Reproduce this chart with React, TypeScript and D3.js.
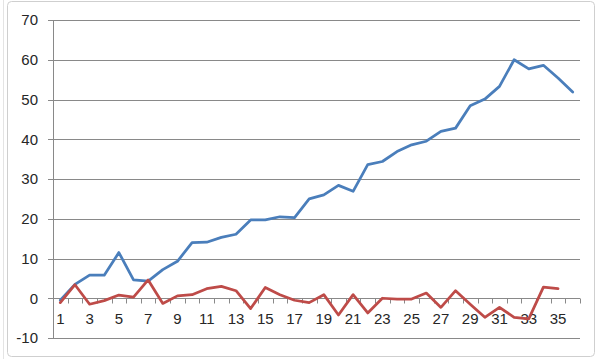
import React from "react";
import * as d3 from "d3";

const categories: number[] = Array.from({ length: 36 }, (_, i) => i + 1);
const seriesBlue: number[] = [
  -0.5, 3.5, 5.8, 5.8, 11.5, 4.6, 4.3, 7.2, 9.3, 14.0,
  14.1, 15.3, 16.1, 19.7, 19.7, 20.5, 20.3, 25.0, 26.0, 28.4,
  26.9, 33.6, 34.4, 36.9, 38.6, 39.5, 42.0, 42.8, 48.4, 50.1,
  53.3, 60.0, 57.7, 58.6, 55.4, 51.9,
];
const seriesRed: number[] = [
  -1.1, 3.4, -1.5, -0.6, 0.8, 0.3, 4.6, -1.3, 0.6, 0.9,
  2.4, 3.0, 1.9, -2.6, 2.7, 0.9, -0.5, -1.1, 0.9, -4.2,
  0.9, -3.7, 0.0, -0.2, -0.2, 1.3, -2.3, 1.9, -1.5, -4.8,
  -2.3, -4.8, -5.2, 2.8, 2.4,
];
const yTicks: number[] = [-10, 0, 10, 20, 30, 40, 50, 60, 70];
const xLabels: number[] = categories.filter((c) => c % 2 === 1);

const W = 600;
const H = 359;
const left = 53;
const right = 580;
const top = 20;
const bottom = 338;
const font = "'Liberation Sans', Arial, sans-serif";
const gridColor = "#898989";

export default function App() {
  const x = d3
    .scaleBand<number>()
    .domain(categories)
    .range([left, right])
    .paddingInner(0)
    .paddingOuter(0);
  const y = d3.scaleLinear().domain([-10, 70]).range([bottom, top]);
  const cx = (c: number) => (x(c) as number) + x.bandwidth() / 2;

  const line = d3
    .line<number>()
    .x((_, i) => cx(categories[i]))
    .y((d) => y(d));

  const boundaries = categories.map((c) => x(c) as number).concat([right]);

  return (
    <svg
      width={W}
      height={H}
      style={{ position: "absolute", left: 0, top: 0, background: "#fff" }}
    >
      <rect x={0} y={0} width={W} height={H} fill="#ffffff" />
      <line x1={3.5} x2={3.5} y1={0} y2={H} stroke="#e4e4e4" />
      <rect
        x={7.5}
        y={1.5}
        width={587}
        height={355}
        rx={4}
        fill="#ffffff"
        stroke="#cfcfcf"
        strokeWidth={1}
      />
      {yTicks.map((t) => (
        <g key={t}>
          <line
            x1={left - 5}
            x2={right}
            y1={Math.round(y(t)) + 0.5}
            y2={Math.round(y(t)) + 0.5}
            stroke={gridColor}
            strokeWidth={1}
          />
          <text
            x={38}
            y={y(t)}
            dy="0.35em"
            textAnchor="end"
            fontFamily={font}
            fontSize={15}
            fill="#262626"
          >
            {t}
          </text>
        </g>
      ))}
      <line
        x1={left + 0.5}
        x2={left + 0.5}
        y1={top}
        y2={bottom}
        stroke={gridColor}
        strokeWidth={1}
      />
      {boundaries.map((b, i) => (
        <line
          key={i}
          x1={Math.round(b) + 0.5}
          x2={Math.round(b) + 0.5}
          y1={Math.round(y(0)) + 0.5}
          y2={Math.round(y(0)) + 5.5}
          stroke={gridColor}
          strokeWidth={1}
        />
      ))}
      {xLabels.map((c) => (
        <text
          key={c}
          x={cx(c)}
          y={324}
          textAnchor="middle"
          fontFamily={font}
          fontSize={15}
          fill="#262626"
        >
          {c}
        </text>
      ))}
      <path
        d={line(seriesBlue) || ""}
        fill="none"
        stroke="#4A7EBB"
        strokeWidth={2.75}
        strokeLinejoin="round"
        strokeLinecap="round"
      />
      <path
        d={line(seriesRed) || ""}
        fill="none"
        stroke="#BE4B48"
        strokeWidth={2.75}
        strokeLinejoin="round"
        strokeLinecap="round"
      />
    </svg>
  );
}
